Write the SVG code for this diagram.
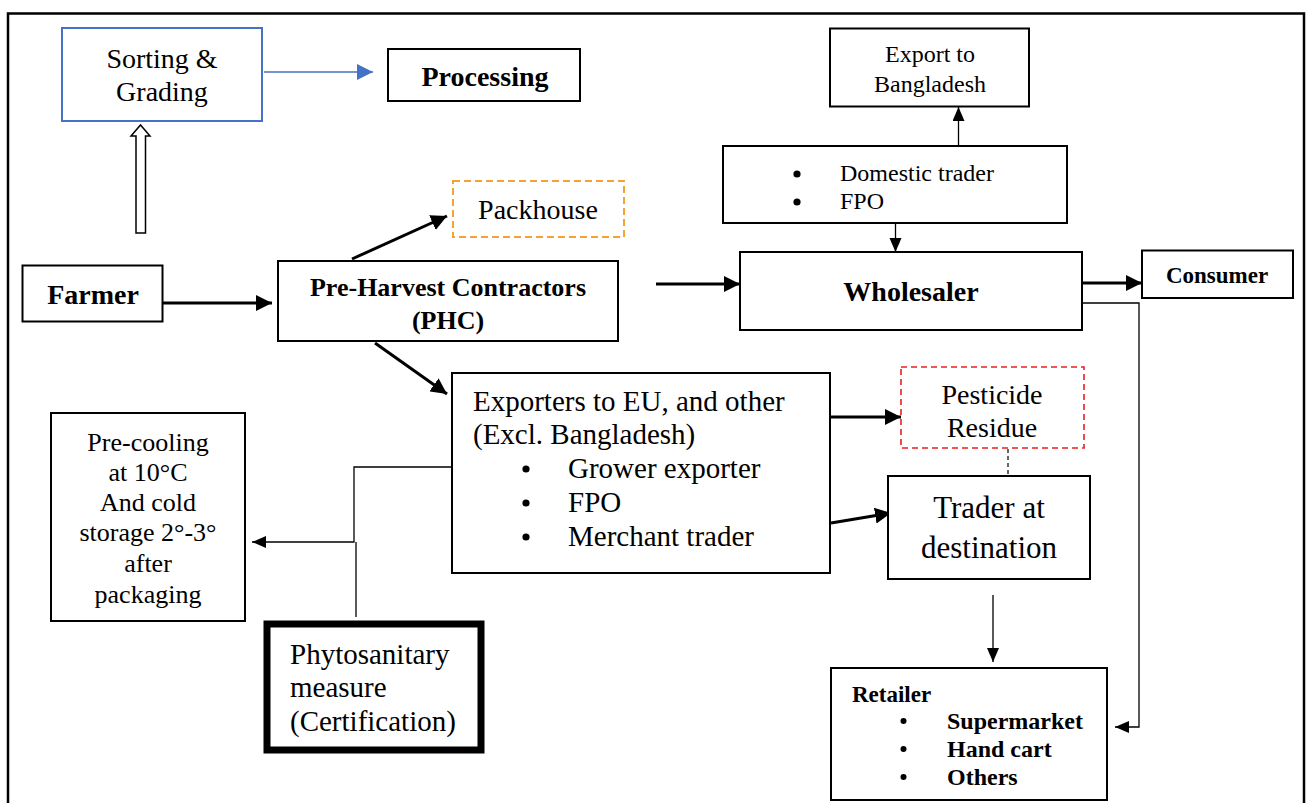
<svg xmlns="http://www.w3.org/2000/svg" width="1311" height="803" viewBox="0 0 1311 803">
  <style>
    text { font-family: "Liberation Serif", "Times New Roman", serif; fill: #000; }
    .b { font-weight: bold; }
    .box { fill: #fff; stroke: #000; stroke-width: 2; }
    .thick { fill: none; stroke: #000; stroke-width: 3; }
    .thin { fill: none; stroke: #000; stroke-width: 1.3; }
    .mid { text-anchor: middle; }
    .dot { fill: #000; }
  </style>
  <defs>
    <marker id="headBig" markerUnits="userSpaceOnUse" markerWidth="18" markerHeight="16" refX="16" refY="8" orient="auto">
      <path d="M0,0 L16,8 L0,16 Z" fill="#000"/>
    </marker>
    <marker id="headSmall" markerUnits="userSpaceOnUse" markerWidth="16" markerHeight="14" refX="14" refY="6" orient="auto">
      <path d="M0,0 L14,6 L0,12 Z" fill="#000"/>
    </marker>
    <marker id="headBlue" markerUnits="userSpaceOnUse" markerWidth="18" markerHeight="16" refX="16" refY="8" orient="auto">
      <path d="M0,0 L16,8 L0,16 Z" fill="#4472C4"/>
    </marker>
  </defs>

  <rect width="1311" height="803" fill="#fff"/>
  <!-- outer frame, open at the bottom edge -->
  <rect x="8" y="13.5" width="1296" height="820" fill="none" stroke="#000" stroke-width="2.5"/>

  <g id="connectors">
    <line x1="264" y1="72" x2="373" y2="72" stroke="#4472C4" stroke-width="1.5" marker-end="url(#headBlue)"/>
    <polygon points="136,233 136,136 131,136 140.5,125 150,136 145.5,136 145.5,233" fill="#fff" stroke="#000" stroke-width="1.5"/>
    <line class="thick" x1="163" y1="303" x2="272" y2="303" marker-end="url(#headBig)"/>
    <line class="thick" x1="352" y1="259" x2="447" y2="216" marker-end="url(#headBig)"/>
    <line class="thick" x1="375" y1="343" x2="447" y2="394" marker-end="url(#headBig)"/>
    <line class="thick" x1="656" y1="284" x2="740" y2="284" marker-end="url(#headBig)"/>
    <line class="thick" x1="1082" y1="283" x2="1142" y2="283" marker-end="url(#headBig)"/>
    <line class="thick" x1="831" y1="417" x2="901" y2="417" marker-end="url(#headBig)"/>
    <line class="thick" x1="831" y1="523" x2="891" y2="513" marker-end="url(#headBig)"/>
    <line class="thin" x1="958.5" y1="146" x2="958.5" y2="107" marker-end="url(#headSmall)"/>
    <line class="thin" x1="895.5" y1="223" x2="895.5" y2="252" marker-end="url(#headSmall)"/>
    <line class="thin" x1="993" y1="595" x2="993" y2="662" marker-end="url(#headSmall)"/>
    <polyline class="thin" points="452,467 354,467 354,542 252,542" marker-end="url(#headSmall)"/>
    <line class="thin" x1="356" y1="617" x2="356" y2="542"/>
    <polyline class="thin" points="1077,303 1139,303 1139,727 1115,727" marker-end="url(#headSmall)"/>
    <line x1="1008" y1="449" x2="1008" y2="480" stroke="#000" stroke-width="1.2" stroke-dasharray="4,3"/>
  </g>

  <g id="sorting">
    <rect x="62" y="28" width="200" height="93" fill="#fff" stroke="#4472C4" stroke-width="2"/>
    <text class="mid" x="162" y="68" font-size="28">Sorting &amp;</text>
    <text class="mid" x="162" y="101" font-size="28">Grading</text>
  </g>

  <g id="processing">
    <rect class="box" x="388" y="49" width="192" height="52" stroke-width="1.5"/>
    <text class="mid b" x="485" y="86" font-size="28">Processing</text>
  </g>

  <g id="packhouse">
    <rect x="453" y="181" width="171" height="56" fill="#fff" stroke="#F4A235" stroke-width="2" stroke-dasharray="7,4"/>
    <text class="mid" x="538" y="219" font-size="28">Packhouse</text>
  </g>

  <g id="farmer">
    <rect class="box" x="22.5" y="265.5" width="140" height="56" stroke-width="3"/>
    <text class="mid b" x="93" y="304" font-size="28">Farmer</text>
  </g>

  <g id="phc">
    <rect class="box" x="278" y="261" width="340" height="80" stroke-width="2.5"/>
    <text class="mid b" x="448" y="296" font-size="26">Pre-Harvest Contractors</text>
    <text class="mid b" x="448" y="329" font-size="26">(PHC)</text>
  </g>

  <g id="export-bangladesh">
    <rect class="box" x="830" y="28.5" width="199" height="78"/>
    <text class="mid" x="930" y="62" font-size="24">Export to</text>
    <text class="mid" x="930" y="92" font-size="24">Bangladesh</text>
  </g>

  <g id="domestic">
    <rect class="box" x="723" y="146" width="344" height="77"/>
    <circle class="dot" cx="797" cy="174" r="3.6"/>
    <text x="840" y="181" font-size="24">Domestic trader</text>
    <circle class="dot" cx="797" cy="202" r="3.6"/>
    <text x="840" y="209" font-size="24">FPO</text>
  </g>

  <g id="wholesaler">
    <rect class="box" x="740" y="252" width="342" height="78" stroke-width="2.5"/>
    <text class="mid b" x="911" y="301" font-size="28">Wholesaler</text>
  </g>

  <g id="consumer">
    <rect class="box" x="1142" y="250.5" width="151" height="47.5" stroke-width="2.5"/>
    <text class="mid b" x="1217" y="283" font-size="23">Consumer</text>
  </g>

  <g id="exporters">
    <rect class="box" x="452" y="373" width="378" height="200"/>
    <text x="473" y="411" font-size="29">Exporters to EU, and other</text>
    <text x="473" y="444" font-size="29">(Excl. Bangladesh)</text>
    <circle class="dot" cx="526" cy="469" r="3.6"/>
    <text x="568" y="478" font-size="29">Grower exporter</text>
    <circle class="dot" cx="526" cy="503" r="3.6"/>
    <text x="568" y="512" font-size="29">FPO</text>
    <circle class="dot" cx="526" cy="537" r="3.6"/>
    <text x="568" y="546" font-size="29">Merchant trader</text>
  </g>

  <g id="pesticide">
    <rect x="901" y="367" width="183" height="81" fill="#fff" stroke="#E8201F" stroke-width="1.6" stroke-dasharray="6,4"/>
    <text class="mid" x="992" y="404" font-size="28">Pesticide</text>
    <text class="mid" x="992" y="437" font-size="28">Residue</text>
  </g>

  <g id="trader">
    <rect class="box" x="888" y="476" width="202" height="103" stroke-width="2.5"/>
    <text class="mid" x="989" y="518" font-size="31">Trader at</text>
    <text class="mid" x="989" y="558" font-size="31">destination</text>
  </g>

  <g id="precooling">
    <rect class="box" x="51" y="413" width="194" height="208"/>
    <text class="mid" x="148" y="451" font-size="26">Pre-cooling</text>
    <text class="mid" x="148" y="481" font-size="26">at 10°C</text>
    <text class="mid" x="148" y="511" font-size="26">And cold</text>
    <text class="mid" x="148" y="541" font-size="26">storage 2°-3°</text>
    <text class="mid" x="148" y="572" font-size="26">after</text>
    <text class="mid" x="148" y="603" font-size="26">packaging</text>
  </g>

  <g id="phytosanitary">
    <rect x="267" y="624" width="214" height="126" fill="#fff" stroke="#000" stroke-width="7"/>
    <text x="290" y="664" font-size="29">Phytosanitary</text>
    <text x="290" y="697" font-size="29">measure</text>
    <text x="290" y="731" font-size="29">(Certification)</text>
  </g>

  <g id="retailer">
    <rect class="box" x="831" y="668" width="276" height="132" stroke-width="2.5"/>
    <text class="b" x="852" y="702" font-size="23">Retailer</text>
    <circle class="dot" cx="903.5" cy="721" r="3"/>
    <text class="b" x="947" y="729" font-size="24">Supermarket</text>
    <circle class="dot" cx="903.5" cy="749" r="3"/>
    <text class="b" x="947" y="757" font-size="24">Hand cart</text>
    <circle class="dot" cx="903.5" cy="777" r="3"/>
    <text class="b" x="947" y="785" font-size="24">Others</text>
  </g>
</svg>
